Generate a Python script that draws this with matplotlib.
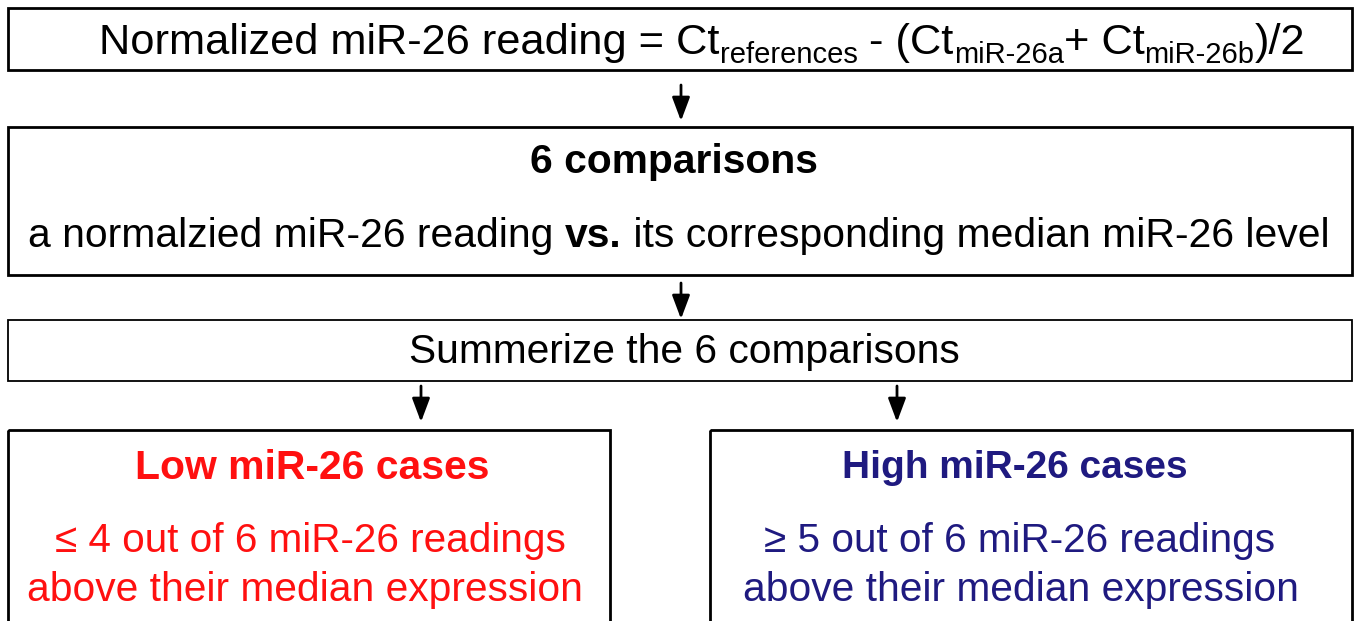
import matplotlib.pyplot as plt
from matplotlib.patches import Rectangle

# Text content of the flowchart
formula_runs = [
    ("Normalized miR-26 reading = Ct", "main"),
    ("references", "sub"),
    (" - (Ct", "main"),
    ("miR-26a", "sub"),
    ("+ Ct", "main"),
    ("miR-26b", "sub"),
    (")/2", "main"),
]
step2_title = "6 comparisons"
step2_runs = [
    ("a normalzied miR-26 reading ", "normal"),
    ("vs.", "bold"),
    (" its corresponding median miR-26 level", "normal"),
]
step3_text = "Summerize the 6 comparisons"
low_title = "Low miR-26 cases"
low_lines = ["\u2264 4 out of 6 miR-26 readings", "above their median expression"]
high_title = "High miR-26 cases"
high_lines = ["\u2265 5 out of 6 miR-26 readings", "above their median expression"]

RED = "#FF1010"
NAVY = "#1F1A80"
FONT = ["Liberation Sans", "DejaVu Sans"]

fig = plt.figure(figsize=(13.55, 6.21), dpi=100)
ax = fig.add_axes([0, 0, 1, 1])
ax.set_xlim(0, 1355)
ax.set_ylim(621, 0)
ax.axis("off")


def box(x0, y0, x1, y1, lw=2.0):
    ax.add_patch(Rectangle((x0, y0), x1 - x0, y1 - y0, fill=False,
                           edgecolor="black", linewidth=lw))


def arrow(x, y0, y1):
    ax.annotate("", xy=(x, y1), xytext=(x, y0),
                arrowprops=dict(arrowstyle="-|>,head_width=0.3,head_length=0.8",
                                color="black", lw=2, mutation_scale=18,
                                shrinkA=0, shrinkB=0))


def runs_line(runs, xc, y, styles, color="black"):
    # place text pieces one after another, centered on xc
    fig.canvas.draw()
    renderer = fig.canvas.get_renderer()
    texts = []
    for s, kind in runs:
        size, weight, dy = styles[kind]
        t = ax.text(0, y + dy, s, fontsize=size, fontweight=weight,
                    family=FONT, color=color, va="baseline", ha="left")
        texts.append(t)
    widths = [t.get_window_extent(renderer).width for t in texts]
    x = xc - sum(widths) / 2
    for t, w in zip(texts, widths):
        t.set_x(x)
        x += w


# Boxes
box(8, 8, 1352, 70)
box(8, 127, 1352, 275)
box(8, 320, 1352, 381, lw=1.3)
box(8, 430, 610, 640)
box(710, 430, 1352, 640)

# Arrows
arrow(681, 85, 121)
arrow(681, 283, 319)
arrow(421, 386, 422)
arrow(897, 386, 422)

# Step 1 formula
runs_line(formula_runs, 702, 54,
          {"main": (31.2, "normal", 0), "sub": (21, "normal", 9)})

# Step 2
ax.text(674, 162, step2_title, fontsize=29.3, fontweight="bold", family=FONT,
        ha="center", va="center")
runs_line(step2_runs, 679, 247,
          {"normal": (29.4, "normal", 0), "bold": (29.4, "bold", 0)})

# Step 3
ax.text(684, 352, step3_text, fontsize=29.3, family=FONT, ha="center", va="center")

# Outcome boxes
ax.text(312, 468, low_title, fontsize=29.4, fontweight="bold", family=FONT,
        color=RED, ha="center", va="center")
ax.text(310, 541, low_lines[0], fontsize=29.2, family=FONT, color=RED,
        ha="center", va="center")
ax.text(305, 590, low_lines[1], fontsize=29.3, family=FONT, color=RED,
        ha="center", va="center")

ax.text(1015, 468, high_title, fontsize=28, fontweight="bold", family=FONT,
        color=NAVY, ha="center", va="center")
ax.text(1020, 541, high_lines[0], fontsize=29.2, family=FONT, color=NAVY,
        ha="center", va="center")
ax.text(1021, 590, high_lines[1], fontsize=29.3, family=FONT, color=NAVY,
        ha="center", va="center")

fig.savefig("out.png", dpi=100)
